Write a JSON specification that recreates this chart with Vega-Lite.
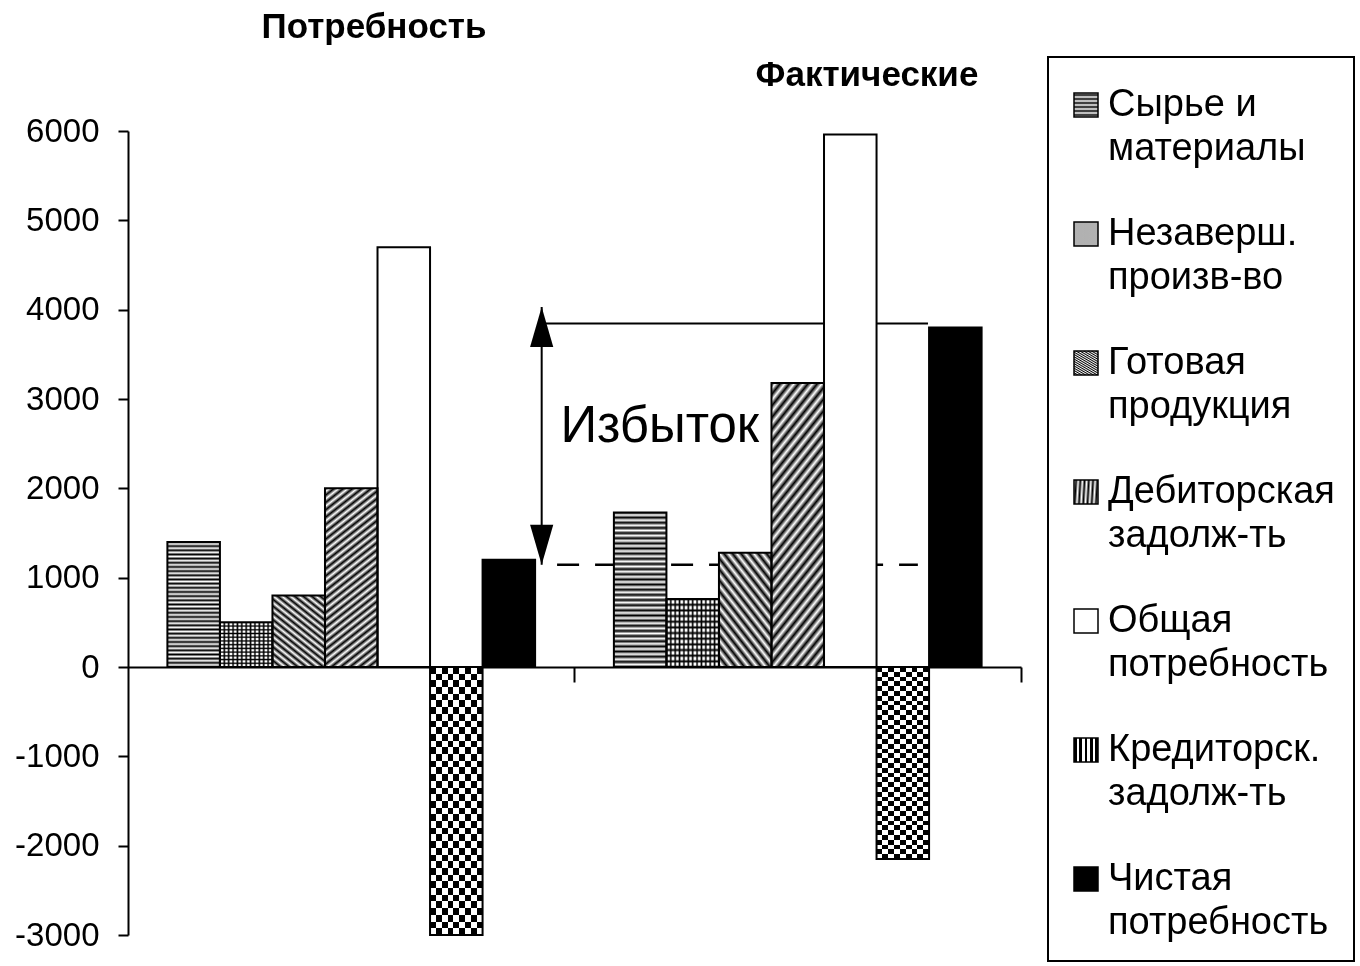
{
  "$schema": "https://vega.github.io/schema/vega-lite/v6.json",
  "width": 893,
  "height": 804,
  "autosize": {"type": "none"},
  "padding": {"left": 128, "top": 131, "right": 339, "bottom": 31},
  "background": "#ffffff",
  "config": {
    "view": {"stroke": null},
    "font": "Liberation Sans",
    "axis": {"grid": false}
  },
  "datasets": {
    "bars": [
      {"group": "Потребность", "cat": "Сырье и материалы", "value": 1400},
      {"group": "Потребность", "cat": "Незаверш. произв-во", "value": 500},
      {"group": "Потребность", "cat": "Готовая продукция", "value": 800},
      {"group": "Потребность", "cat": "Дебиторская задолж-ть", "value": 2000},
      {"group": "Потребность", "cat": "Общая потребность", "value": 4700},
      {"group": "Потребность", "cat": "Кредиторск. задолж-ть", "value": -3000},
      {"group": "Потребность", "cat": "Чистая потребность", "value": 1200},
      {"group": "Фактические", "cat": "Сырье и материалы", "value": 1730},
      {"group": "Фактические", "cat": "Незаверш. произв-во", "value": 760},
      {"group": "Фактические", "cat": "Готовая продукция", "value": 1280},
      {"group": "Фактические", "cat": "Дебиторская задолж-ть", "value": 3180},
      {"group": "Фактические", "cat": "Общая потребность", "value": 5960},
      {"group": "Фактические", "cat": "Кредиторск. задолж-ть", "value": -2150},
      {"group": "Фактические", "cat": "Чистая потребность", "value": 3800}
    ],
    "levels": [
      {"name": "fact", "from": 0.9265, "to": 1.7917, "value": 3845},
      {"name": "need", "from": 0.961, "to": 1.769, "value": 1145}
    ],
    "arrow": [
      {"pos": 0.9265, "top": 4030, "bottom": 1145}
    ],
    "titles": [
      {"text": "Потребность", "pos": 0.551, "value": 7164},
      {"text": "Фактические", "pos": 1.655, "value": 6627}
    ],
    "excess": [
      {"text": "Избыток", "pos": 1.191, "value": 2687}
    ]
  },
  "layer": [
    {
      "layer": [
        {
          "data": {"name": "levels"},
          "transform": [{"filter": "datum.name === 'fact'"}],
          "mark": {"type": "rule", "color": "#000", "strokeWidth": 2},
          "encoding": {
            "x": {"field": "from", "type": "quantitative", "scale": {"domain": [0, 2], "nice": false, "zero": false}, "axis": null},
            "x2": {"field": "to"},
            "y": {"field": "value", "type": "quantitative", "scale": {"domain": [-3000, 6000], "nice": false}, "axis": {"title": null}}
          }
        },
        {
          "data": {"name": "levels"},
          "transform": [{"filter": "datum.name === 'need'"}],
          "mark": {"type": "rule", "color": "#000", "strokeWidth": 2.5, "strokeDash": [22, 16]},
          "encoding": {
            "x": {"field": "from", "type": "quantitative", "scale": {"domain": [0, 2], "nice": false, "zero": false}, "axis": null},
            "x2": {"field": "to"},
            "y": {"field": "value", "type": "quantitative", "scale": {"domain": [-3000, 6000], "nice": false}, "axis": {"title": null}}
          }
        },
        {
          "data": {"name": "arrow"},
          "mark": {"type": "rule", "color": "#000", "strokeWidth": 2},
          "encoding": {
            "x": {"field": "pos", "type": "quantitative", "scale": {"domain": [0, 2], "nice": false, "zero": false}, "axis": null},
            "y": {"field": "top", "type": "quantitative", "scale": {"domain": [-3000, 6000], "nice": false}, "axis": {"title": null}},
            "y2": {"field": "bottom"}
          }
        },
        {
          "data": {"name": "arrow"},
          "mark": {"type": "point", "shape": "M0,0L0.29,1L-0.29,1Z", "size": 6400, "filled": true, "fill": "#000", "opacity": 1, "strokeWidth": 0},
          "encoding": {
            "x": {"field": "pos", "type": "quantitative", "scale": {"domain": [0, 2], "nice": false, "zero": false}, "axis": null},
            "y": {"field": "top", "type": "quantitative", "scale": {"domain": [-3000, 6000], "nice": false}, "axis": {"title": null}}
          }
        },
        {
          "data": {"name": "arrow"},
          "mark": {"type": "point", "shape": "M0,0L0.29,-1L-0.29,-1Z", "size": 6400, "filled": true, "fill": "#000", "opacity": 1, "strokeWidth": 0},
          "encoding": {
            "x": {"field": "pos", "type": "quantitative", "scale": {"domain": [0, 2], "nice": false, "zero": false}, "axis": null},
            "y": {"field": "bottom", "type": "quantitative", "scale": {"domain": [-3000, 6000], "nice": false}, "axis": {"title": null}}
          }
        },
        {
          "data": {"name": "titles"},
          "mark": {"type": "text", "font": "Liberation Sans", "fontSize": 35, "fontWeight": "bold", "color": "#000", "align": "center", "baseline": "middle"},
          "encoding": {
            "x": {"field": "pos", "type": "quantitative", "scale": {"domain": [0, 2], "nice": false, "zero": false}, "axis": null},
            "y": {"field": "value", "type": "quantitative", "scale": {"domain": [-3000, 6000], "nice": false}, "axis": {"title": null}},
            "text": {"field": "text"}
          }
        },
        {
          "data": {"name": "excess"},
          "mark": {"type": "text", "font": "Liberation Sans", "fontSize": 51, "color": "#000", "align": "center", "baseline": "middle"},
          "encoding": {
            "x": {"field": "pos", "type": "quantitative", "scale": {"domain": [0, 2], "nice": false, "zero": false}, "axis": null},
            "y": {"field": "value", "type": "quantitative", "scale": {"domain": [-3000, 6000], "nice": false}, "axis": {"title": null}},
            "text": {"field": "text"}
          }
        }
      ]
    },
    {
      "data": {"name": "bars"},
      "encoding": {
        "x": {
          "field": "group", "type": "nominal",
          "scale": {"domain": ["Потребность", "Фактические"], "paddingInner": 0, "paddingOuter": 0},
          "axis": {"title": null, "labels": false, "ticks": true, "bandPosition": 1, "tickSize": 15, "tickWidth": 2, "tickColor": "#000", "domainColor": "#000", "domainWidth": 2, "offset": -268, "grid": false}
        },
        "xOffset": {
          "field": "cat", "type": "nominal",
          "scale": {"domain": ["Сырье и материалы", "Незаверш. произв-во", "Готовая продукция", "Дебиторская задолж-ть", "Общая потребность", "Кредиторск. задолж-ть", "Чистая потребность"], "paddingInner": 0, "paddingOuter": 0.75}
        },
        "y": {
          "field": "value", "type": "quantitative",
          "scale": {"domain": [-3000, 6000], "nice": false},
          "axis": {"title": null, "values": [-3000, -2000, -1000, 0, 1000, 2000, 3000, 4000, 5000, 6000], "labelExpr": "'' + datum.value", "grid": false, "domainColor": "#000", "domainWidth": 2, "tickColor": "#000", "tickWidth": 2, "tickSize": 10, "labelFontSize": 33, "labelColor": "#000", "labelPadding": 19, "labelFont": "Liberation Sans"}
        }
      },
      "layer": [
        {
          "mark": {"type": "bar", "strokeWidth": 0},
          "encoding": {
            "fill": {
              "field": "cat", "type": "nominal",
              "scale": {
                "domain": ["Сырье и материалы", "Незаверш. произв-во", "Готовая продукция", "Дебиторская задолж-ть", "Общая потребность", "Кредиторск. задолж-ть", "Чистая потребность"],
                "range": [
                  {"expr": "{gradient:'linear',x1:0,y1:0,x2:0,y2:1,stops:[{offset:0,color:'#000'},{offset:0.0167,color:'#fff'},{offset:0.0333,color:'#000'},{offset:0.05,color:'#fff'},{offset:0.0667,color:'#000'},{offset:0.0833,color:'#fff'},{offset:0.1,color:'#000'},{offset:0.1167,color:'#fff'},{offset:0.1333,color:'#000'},{offset:0.15,color:'#fff'},{offset:0.1667,color:'#000'},{offset:0.1833,color:'#fff'},{offset:0.2,color:'#000'},{offset:0.2167,color:'#fff'},{offset:0.2333,color:'#000'},{offset:0.25,color:'#fff'},{offset:0.2667,color:'#000'},{offset:0.2833,color:'#fff'},{offset:0.3,color:'#000'},{offset:0.3167,color:'#fff'},{offset:0.3333,color:'#000'},{offset:0.35,color:'#fff'},{offset:0.3667,color:'#000'},{offset:0.3833,color:'#fff'},{offset:0.4,color:'#000'},{offset:0.4167,color:'#fff'},{offset:0.4333,color:'#000'},{offset:0.45,color:'#fff'},{offset:0.4667,color:'#000'},{offset:0.4833,color:'#fff'},{offset:0.5,color:'#000'},{offset:0.5167,color:'#fff'},{offset:0.5333,color:'#000'},{offset:0.55,color:'#fff'},{offset:0.5667,color:'#000'},{offset:0.5833,color:'#fff'},{offset:0.6,color:'#000'},{offset:0.6167,color:'#fff'},{offset:0.6333,color:'#000'},{offset:0.65,color:'#fff'},{offset:0.6667,color:'#000'},{offset:0.6833,color:'#fff'},{offset:0.7,color:'#000'},{offset:0.7167,color:'#fff'},{offset:0.7333,color:'#000'},{offset:0.75,color:'#fff'},{offset:0.7667,color:'#000'},{offset:0.7833,color:'#fff'},{offset:0.8,color:'#000'},{offset:0.8167,color:'#fff'},{offset:0.8333,color:'#000'},{offset:0.85,color:'#fff'},{offset:0.8667,color:'#000'},{offset:0.8833,color:'#fff'},{offset:0.9,color:'#000'},{offset:0.9167,color:'#fff'},{offset:0.9333,color:'#000'},{offset:0.95,color:'#fff'},{offset:0.9667,color:'#000'},{offset:0.9833,color:'#fff'},{offset:1,color:'#000'}]}"},
                  {"expr": "{gradient:'linear',x1:0,y1:0,x2:1,y2:0,stops:[{offset:0,color:'#000'},{offset:0.03,color:'#fff'},{offset:0.0533,color:'#fff'},{offset:0.0833,color:'#000'},{offset:0.1133,color:'#fff'},{offset:0.1367,color:'#fff'},{offset:0.1667,color:'#000'},{offset:0.1967,color:'#fff'},{offset:0.22,color:'#fff'},{offset:0.25,color:'#000'},{offset:0.28,color:'#fff'},{offset:0.3033,color:'#fff'},{offset:0.3333,color:'#000'},{offset:0.3633,color:'#fff'},{offset:0.3867,color:'#fff'},{offset:0.4167,color:'#000'},{offset:0.4467,color:'#fff'},{offset:0.47,color:'#fff'},{offset:0.5,color:'#000'},{offset:0.53,color:'#fff'},{offset:0.5533,color:'#fff'},{offset:0.5833,color:'#000'},{offset:0.6133,color:'#fff'},{offset:0.6367,color:'#fff'},{offset:0.6667,color:'#000'},{offset:0.6967,color:'#fff'},{offset:0.72,color:'#fff'},{offset:0.75,color:'#000'},{offset:0.78,color:'#fff'},{offset:0.8033,color:'#fff'},{offset:0.8333,color:'#000'},{offset:0.8633,color:'#fff'},{offset:0.8867,color:'#fff'},{offset:0.9167,color:'#000'},{offset:0.9467,color:'#fff'},{offset:0.97,color:'#fff'},{offset:1,color:'#000'}]}"},
                  {"expr": "{gradient:'linear',x1:0,y1:1,x2:0.694,y2:-0.18,stops:[{offset:0,color:'#000'},{offset:0.03,color:'#fff'},{offset:0.06,color:'#000'},{offset:0.09,color:'#fff'},{offset:0.12,color:'#000'},{offset:0.15,color:'#fff'},{offset:0.18,color:'#000'},{offset:0.21,color:'#fff'},{offset:0.24,color:'#000'},{offset:0.27,color:'#fff'},{offset:0.3,color:'#000'},{offset:0.33,color:'#fff'},{offset:0.36,color:'#000'},{offset:0.39,color:'#fff'},{offset:0.42,color:'#000'},{offset:0.45,color:'#fff'},{offset:0.48,color:'#000'},{offset:0.51,color:'#fff'},{offset:0.54,color:'#000'},{offset:0.57,color:'#fff'},{offset:0.6,color:'#000'},{offset:0.63,color:'#fff'},{offset:0.66,color:'#000'},{offset:0.69,color:'#fff'},{offset:0.72,color:'#000'},{offset:0.75,color:'#fff'},{offset:0.78,color:'#000'},{offset:0.81,color:'#fff'},{offset:0.84,color:'#000'},{offset:0.87,color:'#fff'},{offset:0.9,color:'#000'},{offset:0.93,color:'#fff'},{offset:0.96,color:'#000'},{offset:0.99,color:'#fff'}]}"},
                  {"expr": "{gradient:'linear',x1:0,y1:0,x2:0.272,y2:1.17,stops:[{offset:0,color:'#000'},{offset:0.0167,color:'#fff'},{offset:0.0333,color:'#000'},{offset:0.05,color:'#fff'},{offset:0.0667,color:'#000'},{offset:0.0833,color:'#fff'},{offset:0.1,color:'#000'},{offset:0.1167,color:'#fff'},{offset:0.1333,color:'#000'},{offset:0.15,color:'#fff'},{offset:0.1667,color:'#000'},{offset:0.1833,color:'#fff'},{offset:0.2,color:'#000'},{offset:0.2167,color:'#fff'},{offset:0.2333,color:'#000'},{offset:0.25,color:'#fff'},{offset:0.2667,color:'#000'},{offset:0.2833,color:'#fff'},{offset:0.3,color:'#000'},{offset:0.3167,color:'#fff'},{offset:0.3333,color:'#000'},{offset:0.35,color:'#fff'},{offset:0.3667,color:'#000'},{offset:0.3833,color:'#fff'},{offset:0.4,color:'#000'},{offset:0.4167,color:'#fff'},{offset:0.4333,color:'#000'},{offset:0.45,color:'#fff'},{offset:0.4667,color:'#000'},{offset:0.4833,color:'#fff'},{offset:0.5,color:'#000'},{offset:0.5167,color:'#fff'},{offset:0.5333,color:'#000'},{offset:0.55,color:'#fff'},{offset:0.5667,color:'#000'},{offset:0.5833,color:'#fff'},{offset:0.6,color:'#000'},{offset:0.6167,color:'#fff'},{offset:0.6333,color:'#000'},{offset:0.65,color:'#fff'},{offset:0.6667,color:'#000'},{offset:0.6833,color:'#fff'},{offset:0.7,color:'#000'},{offset:0.7167,color:'#fff'},{offset:0.7333,color:'#000'},{offset:0.75,color:'#fff'},{offset:0.7667,color:'#000'},{offset:0.7833,color:'#fff'},{offset:0.8,color:'#000'},{offset:0.8167,color:'#fff'},{offset:0.8333,color:'#000'},{offset:0.85,color:'#fff'},{offset:0.8667,color:'#000'},{offset:0.8833,color:'#fff'},{offset:0.9,color:'#000'},{offset:0.9167,color:'#fff'},{offset:0.9333,color:'#000'},{offset:0.95,color:'#fff'},{offset:0.9667,color:'#000'},{offset:0.9833,color:'#fff'},{offset:1,color:'#000'}]}"},
                  "#ffffff",
                  {"expr": "{gradient:'linear',x1:0,y1:0,x2:1,y2:0,stops:[{offset:0,color:'#000'},{offset:0.1111,color:'#000'},{offset:0.1111,color:'#fff'},{offset:0.2222,color:'#fff'},{offset:0.2222,color:'#000'},{offset:0.3333,color:'#000'},{offset:0.3333,color:'#fff'},{offset:0.4444,color:'#fff'},{offset:0.4444,color:'#000'},{offset:0.5556,color:'#000'},{offset:0.5556,color:'#fff'},{offset:0.6667,color:'#fff'},{offset:0.6667,color:'#000'},{offset:0.7778,color:'#000'},{offset:0.7778,color:'#fff'},{offset:0.8889,color:'#fff'},{offset:0.8889,color:'#000'},{offset:1,color:'#000'}]}"},
                  "#000000"
                ]
              },
              "legend": {
                "orient": "none",
                "legendX": 920,
                "legendY": -74,
                "title": " ",
                "titleFontSize": 2,
                "titlePadding": 8,
                "symbolType": "square",
                "symbolSize": 576,
                "symbolStrokeColor": "#000",
                "symbolStrokeWidth": 1.5,
                "labelFont": "Liberation Sans",
                "labelFontSize": 38,
                "labelColor": "#000",
                "labelLimit": 500,
                "labelOffset": 3,
                "labelBaseline": "alphabetic",
                "rowPadding": 47,
                "padding": 19,
                "strokeColor": "#000",
                "labelExpr": "datum.label === 'Готовая продукция' ? ['Готовая', '\u00a0\u00a0продукция'] : [substring(datum.label, 0, lastindexof(datum.label, ' ')), substring(datum.label, lastindexof(datum.label, ' ') + 1)]",
                "encode": {
                  "labels": {"update": {"lineHeight": {"value": 44}, "dy": {"value": 11}}},
                  "symbols": {"update": {"stroke": {"value": "#000"}, "strokeWidth": {"value": 1.5}, "opacity": {"value": 1}}},
                  "legend": {"update": {"strokeWidth": {"value": 2}}}
                }
              }
            }
          }
        },
        {
          "transform": [{"filter": "datum.cat === 'Незаверш. произв-во'"}],
          "mark": {
            "type": "bar", "strokeWidth": 0,
            "fill": {"gradient": "linear", "x1": 0, "y1": 0, "x2": 0, "y2": 1, "stops": [
              {"offset": 0, "color": "#000"}, {"offset": 0.03, "color": "rgba(0,0,0,0)"}, {"offset": 0.0533, "color": "rgba(0,0,0,0)"},
              {"offset": 0.0833, "color": "#000"}, {"offset": 0.1133, "color": "rgba(0,0,0,0)"}, {"offset": 0.1367, "color": "rgba(0,0,0,0)"},
              {"offset": 0.1667, "color": "#000"}, {"offset": 0.1967, "color": "rgba(0,0,0,0)"}, {"offset": 0.22, "color": "rgba(0,0,0,0)"},
              {"offset": 0.25, "color": "#000"}, {"offset": 0.28, "color": "rgba(0,0,0,0)"}, {"offset": 0.3033, "color": "rgba(0,0,0,0)"},
              {"offset": 0.3333, "color": "#000"}, {"offset": 0.3633, "color": "rgba(0,0,0,0)"}, {"offset": 0.3867, "color": "rgba(0,0,0,0)"},
              {"offset": 0.4167, "color": "#000"}, {"offset": 0.4467, "color": "rgba(0,0,0,0)"}, {"offset": 0.47, "color": "rgba(0,0,0,0)"},
              {"offset": 0.5, "color": "#000"}, {"offset": 0.53, "color": "rgba(0,0,0,0)"}, {"offset": 0.5533, "color": "rgba(0,0,0,0)"},
              {"offset": 0.5833, "color": "#000"}, {"offset": 0.6133, "color": "rgba(0,0,0,0)"}, {"offset": 0.6367, "color": "rgba(0,0,0,0)"},
              {"offset": 0.6667, "color": "#000"}, {"offset": 0.6967, "color": "rgba(0,0,0,0)"}, {"offset": 0.72, "color": "rgba(0,0,0,0)"},
              {"offset": 0.75, "color": "#000"}, {"offset": 0.78, "color": "rgba(0,0,0,0)"}, {"offset": 0.8033, "color": "rgba(0,0,0,0)"},
              {"offset": 0.8333, "color": "#000"}, {"offset": 0.8633, "color": "rgba(0,0,0,0)"}, {"offset": 0.8867, "color": "rgba(0,0,0,0)"},
              {"offset": 0.9167, "color": "#000"}, {"offset": 0.9467, "color": "rgba(0,0,0,0)"}, {"offset": 0.97, "color": "rgba(0,0,0,0)"},
              {"offset": 1, "color": "#000"}
            ]}
          }
        },
        {
          "transform": [{"filter": "datum.cat === 'Кредиторск. задолж-ть'"}],
          "mark": {
            "type": "bar", "strokeWidth": 0, "blend": "difference",
            "fill": {"gradient": "linear", "x1": 0, "y1": 0, "x2": 0, "y2": 1, "stops": [
              {"offset": 0, "color": "rgba(255,255,255,0)"},
              {"offset": 0.025, "color": "rgba(255,255,255,0)"}, {"offset": 0.025, "color": "#fff"}, {"offset": 0.05, "color": "#fff"}, {"offset": 0.05, "color": "rgba(255,255,255,0)"},
              {"offset": 0.075, "color": "rgba(255,255,255,0)"}, {"offset": 0.075, "color": "#fff"}, {"offset": 0.1, "color": "#fff"}, {"offset": 0.1, "color": "rgba(255,255,255,0)"},
              {"offset": 0.125, "color": "rgba(255,255,255,0)"}, {"offset": 0.125, "color": "#fff"}, {"offset": 0.15, "color": "#fff"}, {"offset": 0.15, "color": "rgba(255,255,255,0)"},
              {"offset": 0.175, "color": "rgba(255,255,255,0)"}, {"offset": 0.175, "color": "#fff"}, {"offset": 0.2, "color": "#fff"}, {"offset": 0.2, "color": "rgba(255,255,255,0)"},
              {"offset": 0.225, "color": "rgba(255,255,255,0)"}, {"offset": 0.225, "color": "#fff"}, {"offset": 0.25, "color": "#fff"}, {"offset": 0.25, "color": "rgba(255,255,255,0)"},
              {"offset": 0.275, "color": "rgba(255,255,255,0)"}, {"offset": 0.275, "color": "#fff"}, {"offset": 0.3, "color": "#fff"}, {"offset": 0.3, "color": "rgba(255,255,255,0)"},
              {"offset": 0.325, "color": "rgba(255,255,255,0)"}, {"offset": 0.325, "color": "#fff"}, {"offset": 0.35, "color": "#fff"}, {"offset": 0.35, "color": "rgba(255,255,255,0)"},
              {"offset": 0.375, "color": "rgba(255,255,255,0)"}, {"offset": 0.375, "color": "#fff"}, {"offset": 0.4, "color": "#fff"}, {"offset": 0.4, "color": "rgba(255,255,255,0)"},
              {"offset": 0.425, "color": "rgba(255,255,255,0)"}, {"offset": 0.425, "color": "#fff"}, {"offset": 0.45, "color": "#fff"}, {"offset": 0.45, "color": "rgba(255,255,255,0)"},
              {"offset": 0.475, "color": "rgba(255,255,255,0)"}, {"offset": 0.475, "color": "#fff"}, {"offset": 0.5, "color": "#fff"}, {"offset": 0.5, "color": "rgba(255,255,255,0)"},
              {"offset": 0.525, "color": "rgba(255,255,255,0)"}, {"offset": 0.525, "color": "#fff"}, {"offset": 0.55, "color": "#fff"}, {"offset": 0.55, "color": "rgba(255,255,255,0)"},
              {"offset": 0.575, "color": "rgba(255,255,255,0)"}, {"offset": 0.575, "color": "#fff"}, {"offset": 0.6, "color": "#fff"}, {"offset": 0.6, "color": "rgba(255,255,255,0)"},
              {"offset": 0.625, "color": "rgba(255,255,255,0)"}, {"offset": 0.625, "color": "#fff"}, {"offset": 0.65, "color": "#fff"}, {"offset": 0.65, "color": "rgba(255,255,255,0)"},
              {"offset": 0.675, "color": "rgba(255,255,255,0)"}, {"offset": 0.675, "color": "#fff"}, {"offset": 0.7, "color": "#fff"}, {"offset": 0.7, "color": "rgba(255,255,255,0)"},
              {"offset": 0.725, "color": "rgba(255,255,255,0)"}, {"offset": 0.725, "color": "#fff"}, {"offset": 0.75, "color": "#fff"}, {"offset": 0.75, "color": "rgba(255,255,255,0)"},
              {"offset": 0.775, "color": "rgba(255,255,255,0)"}, {"offset": 0.775, "color": "#fff"}, {"offset": 0.8, "color": "#fff"}, {"offset": 0.8, "color": "rgba(255,255,255,0)"},
              {"offset": 0.825, "color": "rgba(255,255,255,0)"}, {"offset": 0.825, "color": "#fff"}, {"offset": 0.85, "color": "#fff"}, {"offset": 0.85, "color": "rgba(255,255,255,0)"},
              {"offset": 0.875, "color": "rgba(255,255,255,0)"}, {"offset": 0.875, "color": "#fff"}, {"offset": 0.9, "color": "#fff"}, {"offset": 0.9, "color": "rgba(255,255,255,0)"},
              {"offset": 0.925, "color": "rgba(255,255,255,0)"}, {"offset": 0.925, "color": "#fff"}, {"offset": 0.95, "color": "#fff"}, {"offset": 0.95, "color": "rgba(255,255,255,0)"},
              {"offset": 0.975, "color": "rgba(255,255,255,0)"}, {"offset": 0.975, "color": "#fff"}, {"offset": 1, "color": "#fff"}
            ]}
          }
        },
        {
          "mark": {"type": "bar", "fill": "transparent", "stroke": "#000", "strokeWidth": 2}
        }
      ]
    }
  ],
  "resolve": {"scale": {"x": "independent"}}
}
